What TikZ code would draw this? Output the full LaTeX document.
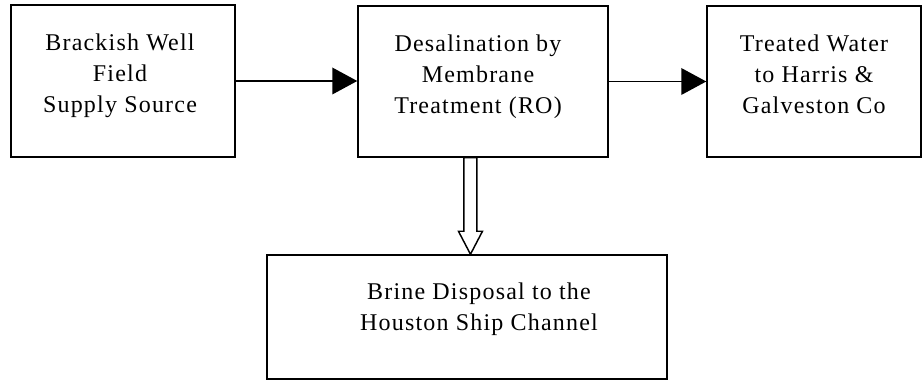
\documentclass[tikz,border=0pt]{standalone}
\usepackage{fontspec}
\setmainfont[LetterSpace=5]{Liberation Serif}
\usetikzlibrary{arrows.meta,calc}

\tikzset{
  stage/.style={draw=black, line width=1.1pt, fill=white, inner sep=0pt},
  caption/.style={align=center, anchor=north, inner sep=0pt, font=\fontsize{18}{23.25}\selectfont},
  flow/.style={line width=1.1pt, -{Triangle[length=18.75pt, width=20pt]}},
  hollow/.style={line width=1.1pt, fill=white, line join=miter}
}

\begin{document}
\begin{tikzpicture}[x=0.75pt, y=0.75pt]

    % Drawing Parameters
    \pgfmathsetmacro{\figurewidth}{922}%
    \pgfmathsetmacro{\figureheight}{381}%
    \pgfmathsetmacro{\shaft}{6.5}%
    \pgfmathsetmacro{\headwidth}{12}%
    \pgfmathsetmacro{\headlength}{23}%

    \useasboundingbox (0,0) rectangle (\figurewidth,\figureheight);

    % Top row of stages
    \node[stage, minimum width=168pt, minimum height=114pt] (well) at (123,300) {};
    \node[stage, minimum width=187.5pt, minimum height=113.25pt] (desal) at (483,299.5) {};
    \node[stage, minimum width=160.5pt, minimum height=113.25pt] (treated) at (814,299.5) {};
    % Disposal stage
    \node[stage, minimum width=300pt, minimum height=93pt] (brine) at (467,64) {};

    % Captions
    \node[caption] (welltext) at ([xshift=-2.25pt, yshift=-22pt]well.north) {Brackish Well\\Field\\Supply Source};
    \node[caption] (desaltext) at ([xshift=-3.75pt, yshift=-22pt]desal.north) {Desalination by\\Membrane\\Treatment (RO)};
    \node[caption] (treatedtext) at ([yshift=-22pt]treated.north) {Treated Water\\to Harris \&\\Galveston Co};
    \node[caption] (brinetext) at ([xshift=9pt, yshift=-21.5pt]brine.north) {Brine Disposal to the\\Houston Ship Channel};

    % Product flow
    \draw[flow] (well.east) -- (desal.west |- well.east);
    \draw[flow] (desal.east) -- (treated.west |- desal.east);

    % Brine outlet (hollow arrow)
    \coordinate (drain) at ([xshift=-9.4pt]desal.south);
    \coordinate (tip) at (drain |- brine.north);
    \draw[hollow] ($(drain)+(-\shaft,0)$) -- ($(tip)+(-\shaft,\headlength)$)
        -- ($(tip)+(-\headwidth,\headlength)$) -- (tip)
        -- ($(tip)+(\headwidth,\headlength)$) -- ($(tip)+(\shaft,\headlength)$)
        -- ($(drain)+(\shaft,0)$) -- cycle;
  \end{tikzpicture}
\end{document}
